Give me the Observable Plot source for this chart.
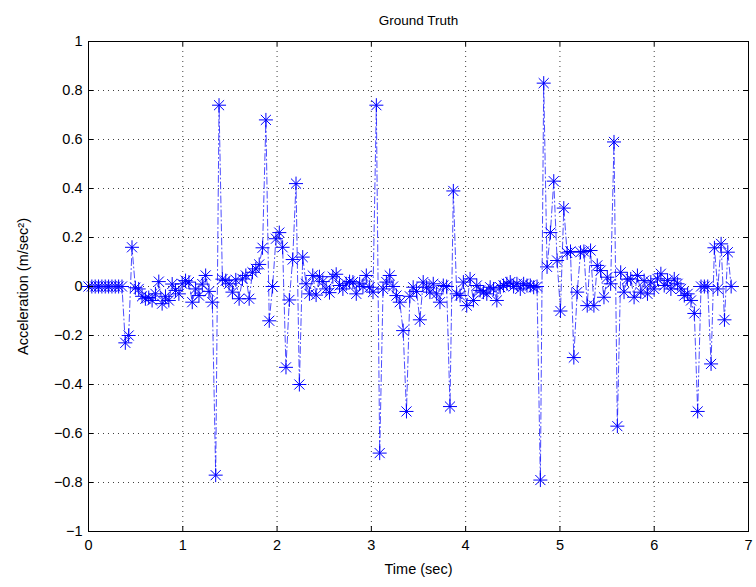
<!DOCTYPE html>
<html>
<head>
<meta charset="utf-8">
<script src="https://cdn.jsdelivr.net/npm/d3@7"></script>
<script src="https://cdn.jsdelivr.net/npm/@observablehq/plot@0.6"></script>
<style>
  html, body { margin: 0; padding: 0; background: #fff; }
  #chart { width: 756px; height: 587px; }
</style>
</head>
<body>
<div id="chart"></div>
<script>
const titleText = "Ground Truth";
const xLabel = "Time (sec)";
const yLabel = "Acceleration (m/sec²)";
const xTicks = [0, 1, 2, 3, 4, 5, 6, 7];
const yTicks = [-1, -0.8, -0.6, -0.4, -0.2, 0, 0.2, 0.4, 0.6, 0.8, 1];
const sampleInterval = 0.0355; // seconds between samples

// acceleration samples (m/sec^2)
const accel = [
  0, 0, 0, 0, 0, 0, 0, 0, 0, 0, 0,
  -0.23, -0.20, 0.16, -0.005, -0.01, -0.04, -0.05, -0.045, -0.057, -0.03,
  0.02, -0.07, -0.04, -0.057, 0.01, -0.016, -0.03, 0.011, 0.024, 0.018,
  -0.064, -0.01, -0.037, 0.01, 0.045, -0.02, -0.064, -0.77, 0.74, 0.03,
  0.024, 0.011, -0.023, 0.027, -0.05, 0.031, 0.045, -0.05, 0.058, 0.072,
  0.09, 0.158, 0.68, -0.14, 0.0, 0.195, 0.22, 0.16, -0.33, -0.055,
  0.11, 0.42, -0.40, 0.12, 0.011, -0.03, 0.045, -0.035, 0.04, 0.02,
  -0.01, -0.025, 0.04, 0.05, 0.004, -0.01, 0.011, 0.02, 0.018, -0.03,
  0.011, 0.0, 0.045, -0.003, -0.023, 0.74, -0.68, -0.01, 0.018, 0.045,
  0.0, -0.037, -0.064, -0.18, -0.51, -0.04, -0.003, -0.02, -0.136, 0.018,
  -0.003, -0.023, 0.011, -0.03, -0.064, 0.004, 0.0, -0.49, 0.39, -0.03,
  -0.037, 0.018, -0.078, 0.031, -0.057, 0.004, -0.016, -0.023, -0.03, -0.003,
  -0.01, -0.057, -0.003, 0.004, 0.011, 0.018, 0.0, 0.011, -0.01, 0.011,
  0.004, 0.004, -0.003, 0.0, -0.79, 0.83, 0.08, 0.22, 0.43, 0.106,
  -0.10, 0.32, 0.137, 0.143, -0.29, -0.023, 0.14, 0.143, -0.078, 0.147,
  -0.078, 0.086, 0.065, -0.044, 0.038, 0.011, 0.59, -0.57, 0.058, -0.023,
  0.03, 0.031, -0.044, 0.045, -0.023, 0.024, -0.03, 0.018, -0.01, 0.031,
  0.052, 0.004, 0.024, -0.01, 0.031, 0.011, -0.01, -0.037, -0.03, -0.057,
  -0.11, -0.51, 0.0, 0.0, 0.0, -0.316, 0.158, -0.01, 0.174, -0.136,
  0.14, 0.0
];

const data = accel.map((v, i) => ({t: i * sampleInterval, v}));

// MATLAB-style '*' marker: plus and cross combined
const star8 = {
  draw(context, size) {
    const r = Math.sqrt(size / Math.PI);
    const d = r * 0.72;
    context.moveTo(-r, 0); context.lineTo(r, 0);
    context.moveTo(0, -r); context.lineTo(0, r);
    context.moveTo(-d, -d); context.lineTo(d, d);
    context.moveTo(-d, d); context.lineTo(d, -d);
  }
};

const W = 756, H = 587;
const mL = 88, mR = 8, mT = 41, mB = 56;
const innerW = W - mL - mR, innerH = H - mT - mB;
const tickLen = 5;
const fmt = d => (d < 0 ? "\u2212" : "") + String(+Math.abs(d).toFixed(1));
const blue = "#0000ff";

const chart = Plot.plot({
  width: W,
  height: H,
  marginLeft: mL, marginRight: mR, marginTop: mT, marginBottom: mB,
  style: {fontFamily: "'Liberation Sans', Arial, Helvetica, sans-serif", fontSize: "14px", background: "white", color: "black"},
  x: {domain: [0, 7]},
  y: {domain: [-1, 1]},
  marks: [
    Plot.gridX(xTicks, {stroke: "#000", strokeOpacity: 0.75, strokeWidth: 1, strokeDasharray: "1,4"}),
    Plot.gridY(yTicks, {stroke: "#000", strokeOpacity: 0.75, strokeWidth: 1, strokeDasharray: "1,4"}),
    Plot.line(data, {x: "t", y: "v", stroke: blue, strokeWidth: 0.7, strokeDasharray: "7,3,1,3"}),
    Plot.dot(data, {x: "t", y: "v", symbol: star8, r: 7, stroke: blue, fill: "none", strokeWidth: 1}),
    Plot.tickX(xTicks, {x: d => d, insetTop: innerH - tickLen, stroke: "#000"}),
    Plot.tickX(xTicks, {x: d => d, insetBottom: innerH - tickLen, stroke: "#000"}),
    Plot.tickY(yTicks, {y: d => d, insetRight: innerW - tickLen, stroke: "#000"}),
    Plot.tickY(yTicks, {y: d => d, insetLeft: innerW - tickLen, stroke: "#000"}),
    Plot.frame({stroke: "#000", strokeWidth: 1}),
    Plot.axisX(xTicks, {tickSize: 0, tickPadding: 8, label: null, tickFormat: fmt, fontSize: 14.5}),
    Plot.axisY(yTicks, {tickSize: 0, tickPadding: 6, label: null, tickFormat: fmt, fontSize: 14.5}),
    Plot.text([titleText], {text: d => d, frameAnchor: "top", dy: -26, fontSize: 13.5}),
    Plot.text([xLabel], {text: d => d, frameAnchor: "bottom", dy: 42, fontSize: 14.5}),
    Plot.text([yLabel], {text: d => d, frameAnchor: "left", textAnchor: "middle", dx: -65, rotate: -90, fontSize: 14.5})
  ]
});
document.getElementById("chart").appendChild(chart);
</script>
</body>
</html>
